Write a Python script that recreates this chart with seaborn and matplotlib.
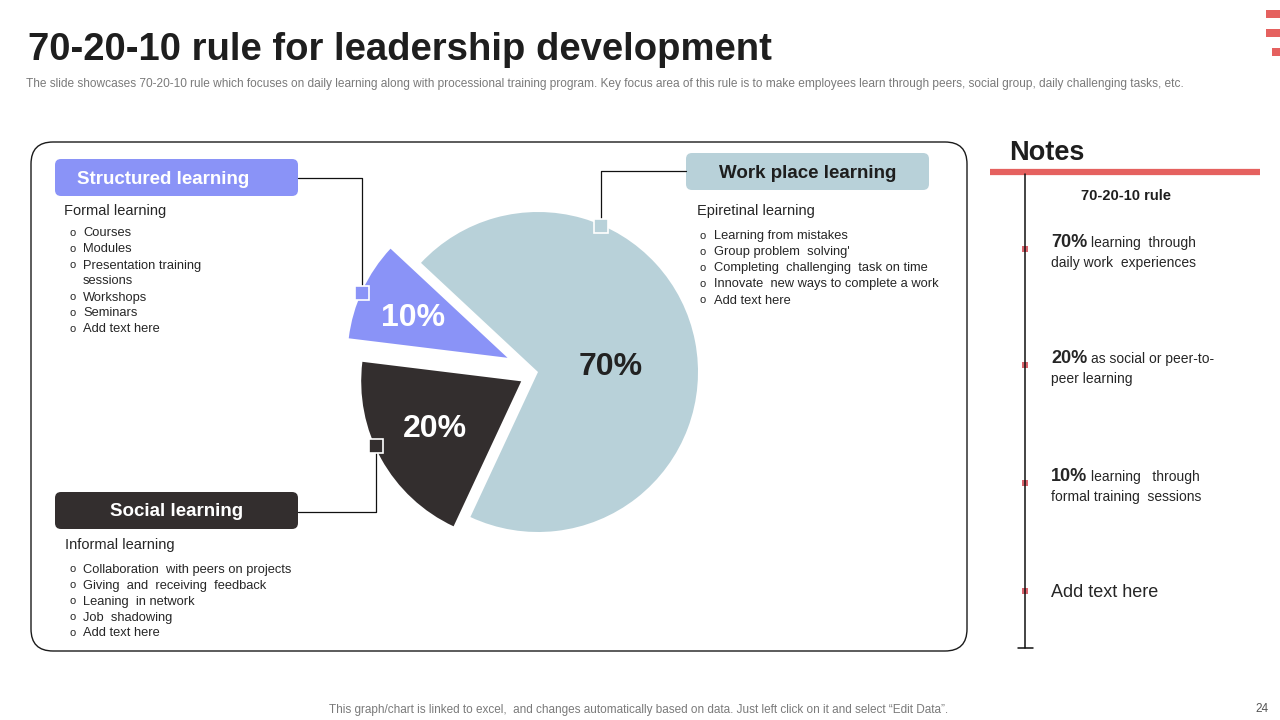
import matplotlib
matplotlib.use("Agg")
import matplotlib.pyplot as plt
from matplotlib.patches import FancyBboxPatch, Rectangle
import numpy as np
import seaborn as sns

# --- data ---
shares = [70, 10, 20]
share_labels = ["70%", "10%", "20%"]
slice_colors = ["#b8d1d9", "#8a93f7", "#332e2e"]
label_colors = ["#222222", "#ffffff", "#ffffff"]
explode = [0.0, 0.21, 0.12]

box_titles = ["Work place learning", "Structured learning", "Social learning"]
box_subtitles = ["Epiretinal learning", "Formal learning", "Informal learning"]
box_items = [
    ["Learning from mistakes", "Group problem  solving'", "Completing  challenging  task on time",
     "Innovate  new ways to complete a work", "Add text here"],
    ["Courses", "Modules", "Presentation training", "sessions", "Workshops", "Seminars", "Add text here"],
    ["Collaboration  with peers on projects", "Giving  and  receiving  feedback", "Leaning  in network",
     "Job  shadowing", "Add text here"],
]
box_bullet = [[1, 1, 1, 1, 1], [1, 1, 1, 0, 1, 1, 1], [1, 1, 1, 1, 1]]

notes_pct = ["70%", "20%", "10%"]
notes_line1 = ["learning  through", "as social or peer-to-", "learning   through"]
notes_line2 = ["daily work  experiences", "peer learning", "formal training  sessions"]

title = "70-20-10 rule for leadership development"
subtitle = ("The slide showcases 70-20-10 rule which focuses on daily learning along with processional training "
            "program. Key focus area of this rule is to make employees learn through peers, social group, daily "
            "challenging tasks, etc.")
footer = ("This graph/chart is linked to excel,  and changes automatically based on data. Just left click on it "
          "and select \u201cEdit Data\u201d.")

# --- style ---
sns.set_theme(style="white")
plt.rcParams['font.family'] = ['Liberation Sans', 'DejaVu Sans']
RED = "#e5615f"
TXT = "#262626"
DY = 1.5

fig = plt.figure(figsize=(12.8, 7.2), dpi=100)
bg = fig.add_axes([0, 0, 1, 1])
bg.set_xlim(0, 1280)
bg.set_ylim(720, 0)
bg.axis("off")


def txt(x, y, s, **kw):
    kw.setdefault("va", "center")
    return bg.text(x, y + DY, s, **kw)


# header
txt(28, 48, title, fontsize=27.5, fontweight="bold", color="#1e1e1e")
txt(26, 83, subtitle, fontsize=8.55, color="#7a7a7a")
for y0, x0 in [(10, 1266), (29, 1266), (48, 1272)]:
    bg.add_patch(Rectangle((x0, y0), 20, 8, color=RED, lw=0))

# frame
bg.add_patch(FancyBboxPatch((31, 142), 936, 509, boxstyle="round,pad=0,rounding_size=22",
                            fc="none", ec="#1a1a1a", lw=1.0))

# pie
R = 160
cx, cy = 538, 372
L = 1.5
S = 2 * L * R
ax = fig.add_axes([(cx - S / 2) / 1280, (720 - cy - S / 2) / 720, S / 1280, S / 720])
wedges, _ = ax.pie(shares, colors=slice_colors, explode=explode, startangle=245,
                   radius=1, counterclock=True, wedgeprops=dict(lw=0))
ax.set_xlim(-L, L)
ax.set_ylim(-L, L)
ax.axis("off")
ax.patch.set_alpha(0)

label_r = [0.455, 0.64, 0.62]
label_shift = [-7, 2, 0]
marker_angles = [66.6, None, None]
marker_shift = [0, 1, -5]
marker_pts = []
for w, lab, lc, rl, ls, ma, ms, col in zip(wedges, share_labels, label_colors, label_r, label_shift,
                                           marker_angles, marker_shift, slice_colors):
    mid = (w.theta1 + w.theta2) / 2
    ox, oy = w.center
    a = np.deg2rad(mid + ls)
    ax.text(ox + rl * np.cos(a), oy + rl * np.sin(a), lab, fontsize=23, fontweight="bold",
            color=lc, ha="center", va="center")
    a = np.deg2rad(ma if ma is not None else mid + ms)
    px, py = ox + 0.995 * np.cos(a), oy + 0.995 * np.sin(a)
    ax.add_patch(Rectangle((px - 0.045, py - 0.045), 0.09, 0.09, fc=col, ec="white", lw=1.2, zorder=5))
    dx, dy = ax.transData.transform((px, py))
    marker_pts.append((dx, 720 - dy))

# label boxes
boxes = [(686, 153), (55, 159), (55, 492)]
box_tc = ["#1e1e1e", "#ffffff", "#ffffff"]
box_tx = [807.5, 77, 176.5]
box_ha = ["center", "left", "center"]
for (bx, by), t, fc, tc, tx, ha in zip(boxes, box_titles, slice_colors, box_tc, box_tx, box_ha):
    bg.add_patch(FancyBboxPatch((bx, by), 243, 37, boxstyle="round,pad=0,rounding_size=6",
                                fc=fc, ec="none"))
    txt(tx, by + 18.5, t, fontsize=13.5, fontweight="bold", color=tc, ha=ha)

# connectors
(m0x, m0y), (m1x, m1y), (m2x, m2y) = marker_pts
bg.plot([686, m0x, m0x], [171, 171, m0y - 6], color="#111111", lw=0.9)
bg.plot([298, m1x, m1x], [178, 178, m1y - 6], color="#111111", lw=0.9)
bg.plot([298, m2x, m2x], [512, 512, m2y + 6], color="#111111", lw=0.9)

# body text
subs_pos = [(697, 210, 699, 714, 235), (64, 210, 69, 83, 232), (65, 544, 69, 83, 568)]
for (sx, sy, ox_, tx, ty), st, items, bul in zip(subs_pos, box_subtitles, box_items, box_bullet):
    txt(sx, sy, st, fontsize=10.5, color=TXT)
    for i, (it, b) in enumerate(zip(items, bul)):
        yy = ty + 16 * i
        if b:
            txt(ox_, yy - 0.5, "o", fontsize=8, color=TXT)
        txt(tx, yy, it, fontsize=9.3, color=TXT)

# notes panel
txt(1009, 151, "Notes", fontsize=19.5, fontweight="bold", color="#1e1e1e")
bg.plot([990, 1260], [172, 172], color=RED, lw=4.5, solid_capstyle="butt")
bg.plot([1025, 1025], [174, 648], color="#111111", lw=1.1)
bg.plot([1018, 1033], [648, 648], color="#111111", lw=1.1)
txt(1126, 194, "70-20-10 rule", fontsize=10.5, fontweight="bold", color="#1e1e1e", ha="center")

renderer = fig.canvas.get_renderer()
note_y = [241, 357, 475]
for y, p, l1, l2 in zip(note_y, notes_pct, notes_line1, notes_line2):
    t = txt(1051, y, p, fontsize=13, fontweight="bold", color="#262626")
    w = t.get_window_extent(renderer=renderer).width
    txt(1051 + w + 4, y + 1, l1, fontsize=10, color="#262626")
    txt(1051, y + 20, l2, fontsize=10, color="#262626")
    bg.add_patch(Rectangle((1022, y + 5), 6, 6, color="#d9646c", lw=0))
txt(1051, 591, "Add text here", fontsize=13, color="#262626")
bg.add_patch(Rectangle((1022, 588), 6, 6, color="#d9646c", lw=0))

# footer
txt(639, 708, footer, fontsize=8.5, color="#7a7a7a", ha="center")
txt(1262, 708, "24", fontsize=8.5, color="#555555", ha="center")

fig.savefig("out.png", dpi=100)
